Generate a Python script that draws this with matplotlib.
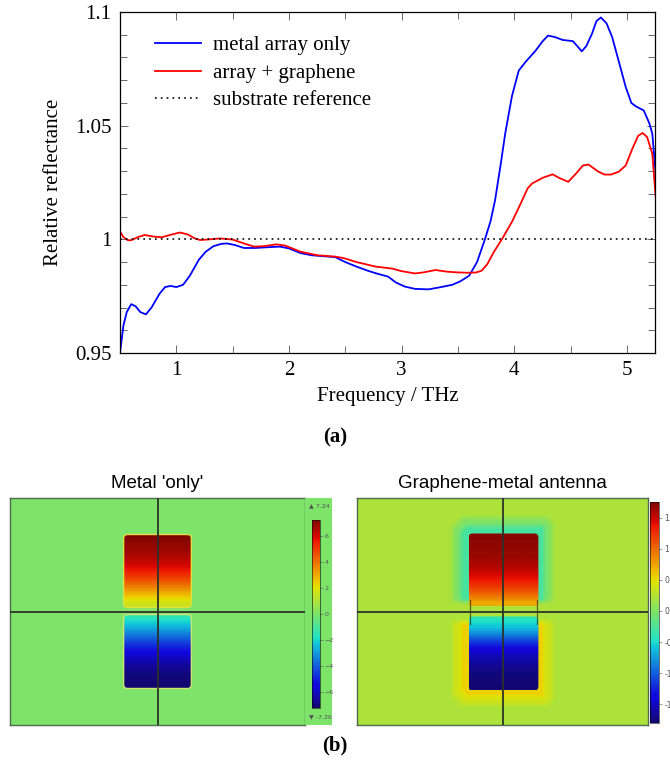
import numpy as np
import matplotlib
matplotlib.use("Agg")
import matplotlib.pyplot as plt
from matplotlib.colors import Normalize, ListedColormap
from matplotlib.cm import ScalarMappable
from matplotlib.patches import FancyBboxPatch
from matplotlib.ticker import MultipleLocator

# ---- (a) relative reflectance spectra ----
freq_metal = [0.5, 0.53, 0.56, 0.6, 0.64, 0.68, 0.73, 0.78, 0.85, 0.9, 0.95, 1.0, 1.06, 1.12,
              1.2, 1.26, 1.33, 1.4, 1.45, 1.52, 1.6, 1.7, 1.8, 1.92, 2.0, 2.1, 2.2, 2.3, 2.41,
              2.5, 2.6, 2.7, 2.77, 2.88, 2.95, 3.03, 3.12, 3.24, 3.35, 3.45, 3.52, 3.6, 3.67,
              3.74, 3.79, 3.83, 3.88, 3.92, 3.98, 4.04, 4.1, 4.19, 4.25, 4.3, 4.36, 4.43, 4.52,
              4.56, 4.6, 4.64, 4.69, 4.73, 4.77, 4.82, 4.87, 4.93, 4.99, 5.04, 5.08, 5.15, 5.2,
              5.226, 5.256]
refl_metal = [0.950, 0.962, 0.968, 0.9715, 0.9705, 0.968, 0.967, 0.970, 0.976, 0.979, 0.9795,
              0.979, 0.980, 0.984, 0.991, 0.9945, 0.997, 0.998, 0.9982, 0.9975, 0.9962, 0.9962,
              0.9965, 0.9968, 0.996, 0.994, 0.993, 0.9926, 0.9922, 0.990, 0.988, 0.9862, 0.9851,
              0.9836, 0.981, 0.9792, 0.9782, 0.978, 0.979, 0.980, 0.9815, 0.984, 0.990, 1.000,
              1.008, 1.0172, 1.033, 1.0465, 1.063, 1.0742, 1.078, 1.083, 1.087, 1.0896, 1.089,
              1.0877, 1.0872, 1.085, 1.0827, 1.085, 1.0904, 1.096, 1.0976, 1.095, 1.0889, 1.078,
              1.067, 1.060, 1.0585, 1.0567, 1.051, 1.0465, 1.029]

freq_graph = [0.5, 0.53, 0.57, 0.6, 0.66, 0.72, 0.8, 0.87, 0.95, 1.03, 1.1, 1.16, 1.21, 1.3,
              1.39, 1.5, 1.6, 1.69, 1.78, 1.89, 1.97, 2.1, 2.25, 2.41, 2.49, 2.6, 2.77, 2.92,
              3.0, 3.12, 3.2, 3.3, 3.4, 3.48, 3.58, 3.66, 3.71, 3.76, 3.82, 3.89, 3.98, 4.06,
              4.12, 4.16, 4.25, 4.34, 4.4, 4.48, 4.55, 4.61, 4.66, 4.74, 4.8, 4.86, 4.93, 4.99,
              5.05, 5.1, 5.14, 5.18, 5.226, 5.256]
refl_graph = [1.0035, 1.001, 0.9996, 0.9996, 1.001, 1.0019, 1.0012, 1.0009, 1.002, 1.003,
              1.0022, 1.0005, 0.9997, 1.000, 1.0004, 0.9999, 0.9982, 0.9968, 0.997, 0.9978,
              0.9972, 0.9946, 0.993, 0.9924, 0.9917, 0.990, 0.988, 0.9871, 0.986, 0.985, 0.9855,
              0.9865, 0.9858, 0.9855, 0.9853, 0.9854, 0.9862, 0.989, 0.9945, 1.000, 1.0077,
              1.016, 1.0225, 1.0246, 1.027, 1.0286, 1.027, 1.0253, 1.029, 1.0325, 1.0329, 1.030,
              1.0285, 1.0285, 1.0298, 1.0325, 1.040, 1.0455, 1.0468, 1.045, 1.0377, 1.0187]

substrate_level = 1.0
series_labels = ["metal array only", "array + graphene", "substrate reference"]

# ---- (b) field maps: colour levels down each antenna arm ----
metal_top_profile = [7.2, 7.0, 6.8, 6.5, 6.1, 5.6, 5.0, 4.2, 3.3, 2.4, 1.6]
metal_bot_profile = [-1.6, -2.3, -3.1, -3.9, -4.7, -5.4, -6.0, -6.5, -6.9, -7.1, -7.2]
metal_range = (-7.26, 7.24)
metal_ticks = [6, 4, 2, 0, -2, -4, -6]

graph_top_profile = [1.72, 1.7, 1.68, 1.65, 1.6, 1.52, 1.42, 1.3, 1.15, 0.95, 0.72]
graph_bot_profile = [-0.45, -0.6, -0.85, -1.15, -1.4, -1.55, -1.65, -1.72, -1.76, -1.78]
graph_range = (-1.8, 1.75)
graph_ticks = [1.5, 1, 0.5, 0, -0.5, -1, -1.5]
graph_background = 0.22
graph_halo_top = [-0.3, 0.0]    # near / far band round the upper arm
graph_halo_bot = [0.55, 0.38]   # near / far band round the lower arm

panel_titles = ["Metal 'only'", "Graphene-metal antenna"]

W, H = 670, 767
fig = plt.figure(figsize=(W / 100, H / 100), dpi=100)


def px_axes(x0, y0, x1, y1):
    return fig.add_axes([x0 / W, 1 - y1 / H, (x1 - x0) / W, (y1 - y0) / H])


serif = ["Liberation Serif", "DejaVu Serif"]
sans = ["Liberation Sans", "DejaVu Sans"]
fs = 15

# ---------------- (a) ----------------
ax = px_axes(120, 12, 655, 353)
ax.plot(freq_metal, refl_metal, color="#0000ff", lw=1.3, label=series_labels[0])
ax.plot(freq_graph, refl_graph, color="#ff0000", lw=1.3, label=series_labels[1])
ax.axhline(substrate_level, color="black", ls=(0, (1, 2.5)), lw=1.2, label=series_labels[2])
ax.set_xlim(0.5, 5.25)
ax.set_ylim(0.95, 1.1)
ax.set_xticks([1, 2, 3, 4, 5])
ax.set_yticks([0.95, 1.0, 1.05, 1.1])
ax.set_yticklabels(["0.95", "1", "1.05", "1.1"])
ax.xaxis.set_minor_locator(MultipleLocator(0.5))
ax.yaxis.set_minor_locator(MultipleLocator(0.01))
ax.tick_params(which="both", direction="in", top=True, right=True, width=0.6, color="#555555")
ax.tick_params(which="major", length=5.5, pad=6)
ax.tick_params(which="minor", length=5)
for lab in ax.get_xticklabels() + ax.get_yticklabels():
    lab.set_family(serif)
    lab.set_fontsize(fs)
for s in ax.spines.values():
    s.set_linewidth(0.9)
ax.set_xlabel("Frequency / THz", family=serif, fontsize=fs, labelpad=5)
ax.set_ylabel("Relative reflectance", family=serif, fontsize=fs, labelpad=9)
ax.legend(loc="upper left", bbox_to_anchor=(0.03, 0.985), frameon=False,
          prop={"family": serif, "size": fs}, handlelength=2.2, handletextpad=0.6,
          labelspacing=0.38)
fig.text(0.5, 1 - 437 / H, "(a)", ha="center", va="center", family=serif,
         fontsize=fs, weight="bold")

# ---------------- (b) ----------------
# slightly muted jet, like the exported simulation screenshots
jet = plt.get_cmap("jet")(np.linspace(0, 1, 256))
jet[:, :3] = jet[:, :3] * 0.86 + np.array([0.07, 0.03, 0.0])
cmap = ListedColormap(jet)


def antenna_arm(axf, profile, x0, x1, y0, y1, norm, edge=None):
    im = axf.imshow(np.array(profile)[:, None], extent=(x0, x1, y0, y1), cmap=cmap,
                    norm=norm, interpolation="bilinear", aspect="auto", zorder=2)
    box = FancyBboxPatch((x0, y0), x1 - x0, y1 - y0, boxstyle="round,pad=0,rounding_size=4",
                         transform=axf.transData, facecolor="none",
                         edgecolor=edge if edge else "none", lw=1.0, zorder=3)
    axf.add_patch(box)
    im.set_clip_path(box)


def frame(axf, hw, hh):
    axf.set_xlim(-hw, hw)
    axf.set_ylim(-hh, hh)
    axf.set_xticks([])
    axf.set_yticks([])
    axf.axvline(0, color="#2a332a", lw=1.3, zorder=4)
    axf.axhline(0, color="#2a332a", lw=1.3, zorder=4)
    for s in axf.spines.values():
        s.set_color("#4f6a4f")
        s.set_linewidth(1.0)


# left: metal only
norm_m = Normalize(*metal_range)
axm = px_axes(10, 498, 305, 725)
axm.set_facecolor(cmap(norm_m(0)))
antenna_arm(axm, metal_top_profile, -34, 34, 4, 77, norm_m, edge="#e0e040")
antenna_arm(axm, metal_bot_profile, -34, 34, -77, -3, norm_m, edge="#d0e470")
frame(axm, 148, 113.5)
axm.set_title(panel_titles[0], family=sans, fontsize=13.5, pad=7)

bgm = px_axes(305, 498, 332, 725)
bgm.set_facecolor(cmap(norm_m(0)))
bgm.set_xticks([])
bgm.set_yticks([])
for s in bgm.spines.values():
    s.set_visible(False)
bgm.text(0.15, 0.965, "\u25b2 7.24", transform=bgm.transAxes, fontsize=4.5, color="#555555",
         va="center", ha="left")
bgm.text(0.15, 0.035, "\u25bc -7.26", transform=bgm.transAxes, fontsize=4.5, color="#555555",
         va="center", ha="left")
cm_ax = px_axes(312, 520, 320, 708)
cb = fig.colorbar(ScalarMappable(norm=norm_m, cmap=cmap), cax=cm_ax, ticks=metal_ticks)
cb.outline.set_linewidth(0.4)
cb.ax.tick_params(labelsize=4.5, length=2, width=0.4, colors="#555555", pad=1.5)

# right: graphene-metal, with the soft field halo round each arm
norm_g = Normalize(*graph_range)
axg = px_axes(357, 498, 648, 725)
hw, hh = 146, 113.5
top_arm = (-34, 36, 5, 78)
bot_arm = (-34, 36, -79, -5)
nx, ny = 73, 57
xc = -hw + (np.arange(nx) + 0.5) * (2 * hw / nx)
yc = hh - (np.arange(ny) + 0.5) * (2 * hh / ny)
XX, YY = np.meshgrid(xc, yc)


def dist_to(arm):
    x0, x1, y0, y1 = arm
    dx = np.maximum(np.maximum(x0 - XX, XX - x1), 0)
    dy = np.maximum(np.maximum(y0 - YY, YY - y1), 0)
    return np.hypot(dx, dy)


halo = np.full((ny, nx), graph_background)
d_top, d_bot = dist_to(top_arm), dist_to(bot_arm)
halo[(d_top < 16) & (YY > 10)] = graph_halo_top[1]
halo[(d_top < 7) & (YY > 10)] = graph_halo_top[0]
halo[(d_bot < 16) & (YY < -10)] = graph_halo_bot[1]
halo[(d_bot < 7) & (YY < -10)] = graph_halo_bot[0]
axg.imshow(halo, extent=(-hw, hw, -hh, hh), cmap=cmap, norm=norm_g, interpolation="bicubic",
           aspect="auto", zorder=1)
antenna_arm(axg, graph_top_profile, *top_arm, norm_g)
antenna_arm(axg, graph_bot_profile, *bot_arm, norm_g)
for xe in (top_arm[0] + 1, top_arm[1] - 1):
    axg.plot([xe, xe], [-12, 12], color="#3a2a10", lw=0.9, alpha=0.7, zorder=3)
frame(axg, hw, hh)
axg.set_title(panel_titles[1], family=sans, fontsize=13.5, pad=7)

cg_ax = px_axes(650, 502, 659, 723)
cb2 = fig.colorbar(ScalarMappable(norm=norm_g, cmap=cmap), cax=cg_ax, ticks=graph_ticks)
cb2.ax.set_yticklabels([f"{t:g}" for t in graph_ticks])
cb2.outline.set_linewidth(0.4)
cb2.ax.tick_params(labelsize=5.5, length=2, width=0.4, colors="#555555", pad=2)

fig.text(0.5, 1 - 745 / H, "(b)", ha="center", va="center", family=serif,
         fontsize=fs, weight="bold")

fig.savefig("out.png", dpi=100)
